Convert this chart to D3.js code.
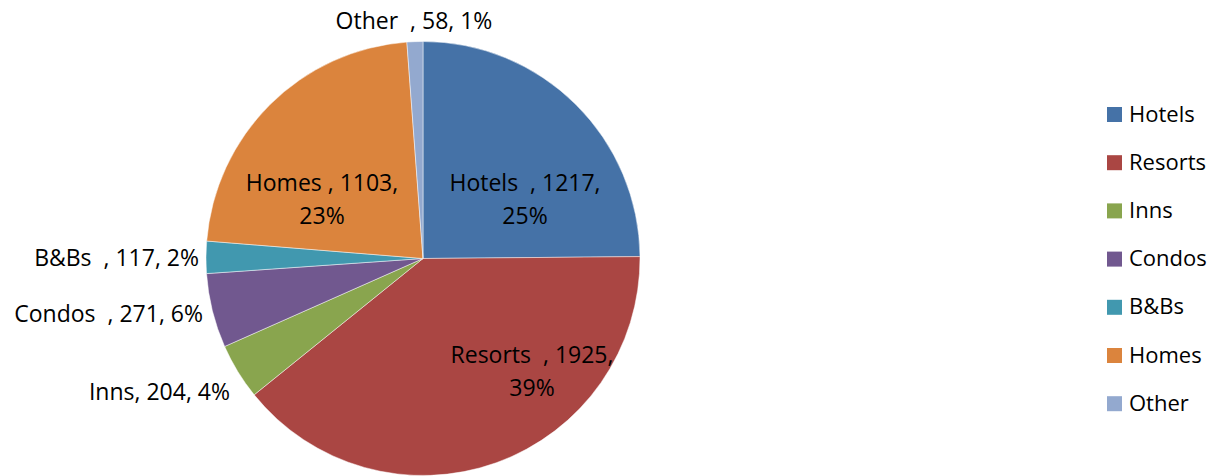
<!DOCTYPE html>
<html>
<head>
<meta charset="utf-8">
<script src="https://cdn.jsdelivr.net/npm/d3@7"></script>
<style>
  body { margin: 0; background: #fff; }
  text { font-family: "Open Sans", sans-serif; white-space: pre; fill: #000; }
</style>
</head>
<body>
<script>
// chart data
const categories = ['Hotels ', 'Resorts ', 'Inns', 'Condos ', 'B&Bs ', 'Homes ', 'Other '];
const values = [1217, 1925, 204, 271, 117, 1103, 58];
const colors = ['#4572A7', '#AA4643', '#89A54E', '#71588F', '#4198AF', '#DB843D', '#93A9CF'];

// label placement (relative to pie centre), Excel style
const labelLayout = {
  'Hotels ': { x: 102, y: -68, anchor: 'middle', split: true },
  'Resorts ': { x: 109, y: 104, anchor: 'middle', split: true },
  'Homes ': { x: -101, y: -68, anchor: 'middle', split: true },
  'Other ': { x: -9, y: -230, anchor: 'middle' },
  'B&Bs ': { x: -224, y: 7, anchor: 'end' },
  'Condos ': { x: -220, y: 63, anchor: 'end' },
  'Inns': { x: -193, y: 141, anchor: 'end' }
};

const width = 1214, height = 476;
const cx = 423, cy = 258.5, radius = 217;

const data = categories.map((c, i) => ({ name: c, value: values[i], color: colors[i] }));
const total = d3.sum(values);

const svg = d3.select('body').append('svg')
  .attr('width', width)
  .attr('height', height);

const pie = d3.pie().sort(null).value(d => d.value);
const arc = d3.arc().innerRadius(0).outerRadius(radius);

const g = svg.append('g').attr('transform', `translate(${cx},${cy})`);

g.selectAll('path')
  .data(pie(data))
  .enter().append('path')
  .attr('d', arc)
  .attr('fill', d => d.data.color)
  .attr('stroke', '#fff')
  .attr('stroke-opacity', 0.6)
  .attr('stroke-width', 0.8);

// data labels ("name , value, pct" like Excel, keeping the double space)
g.selectAll('text.lbl')
  .data(data)
  .enter().append('text')
  .attr('class', 'lbl')
  .attr('xml:space', 'preserve')
  .attr('font-size', 23)
  .attr('text-anchor', d => labelLayout[d.name].anchor)
  .each(function (d) {
    let L = labelLayout[d.name];
    let pct = Math.round(d.value / total * 100) + '%';
    let sep = d.name === 'Homes ' ? ', ' : (d.name.endsWith(' ') ? ' , ' : ', ');
    let t = d3.select(this);
    if (L.split) {
      t.append('tspan').attr('x', L.x).attr('y', L.y).text(`${d.name}${sep}${d.value},`);
      t.append('tspan').attr('x', L.x).attr('y', L.y + 33).text(pct);
    } else {
      t.attr('x', L.x).attr('y', L.y).text(`${d.name}${sep}${d.value}, ${pct}`);
    }
  });

// legend
let legend = svg.append('g').attr('transform', 'translate(1107,107)');

let rows = legend.selectAll('g')
  .data(data)
  .enter().append('g')
  .attr('transform', (d, i) => `translate(0,${i * 48.2})`);

rows.append('rect')
  .attr('width', 15)
  .attr('height', 15)
  .attr('fill', d => d.color);

rows.append('text')
  .attr('x', 22)
  .attr('y', 14.5)
  .attr('font-size', 22)
  .text(d => d.name.trim());
</script>
</body>
</html>
